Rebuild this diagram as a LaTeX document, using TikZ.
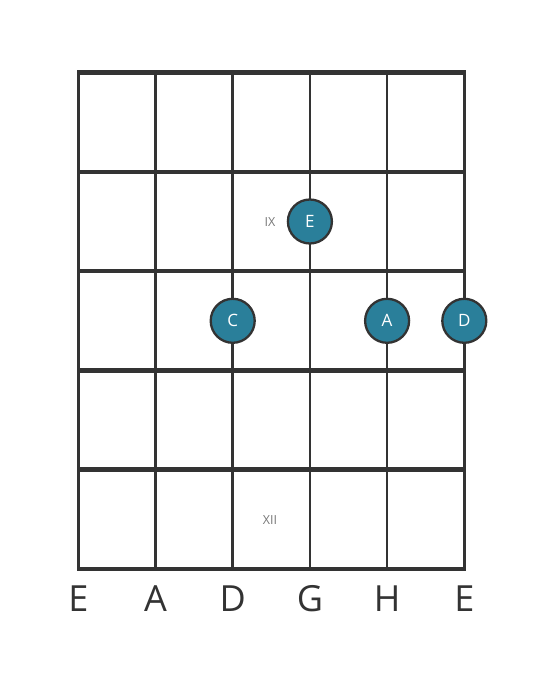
\documentclass[tikz,border=0pt]{standalone}
\usepackage{fontspec}
\setmainfont{Open Sans}
\definecolor{ink}{HTML}{333333}
\definecolor{dot}{HTML}{2A7F9A}
\definecolor{marker}{HTML}{777777}
\begin{document}
\begin{tikzpicture}[x=1pt,y=-1pt,
  string/.style={draw=ink,line width=2.7pt},
  fret/.style={draw=ink,line width=4.6pt},
  notedot/.style={circle,fill=dot,draw=ink,line width=2.3pt,minimum size=44pt,inner sep=0pt,text=white,font=\fontsize{17}{17}\selectfont},
  strlabel/.style={text=ink,font=\fontsize{36}{36}\selectfont,inner sep=0pt},
  fretmark/.style={text=marker,font=\fontsize{12.5}{12.5}\selectfont,inner sep=0pt}]
\useasboundingbox (0,0) rectangle (559,682);
% strings
\foreach \i/\x in {1/78.3,2/155.5,3/232.7,4/309.9,5/387.1,6/464.3}{
  \coordinate (st\i) at (\x,72);
  \coordinate (sb\i) at (\x,569);
  \draw[string] (st\i) -- (sb\i);
}
% frets
\foreach \j/\y in {0/72.5,1/171.8,2/271.1,3/370.4,4/469.7,5/569}{
  \coordinate (fl\j) at (77,\y);
  \coordinate (fr\j) at (465.6,\y);
  \draw[fret] (fl\j) -- (fr\j);
}
% fret markers
\node[fretmark] (ix) at (270,222) {IX};
\node[fretmark] (xii) at (270,520) {XII};
% notes
\node[notedot] (nE) at (309.9,221.5) {E};
\node[notedot] (nC) at (232.7,320.8) {C};
\node[notedot] (nA) at (387.1,320.8) {A};
\node[notedot] (nD) at (464.3,320.8) {D};
% string names
\foreach \i/\x/\t in {1/78.3/E,2/155.5/A,3/232.7/D,4/309.9/G,5/387.1/H,6/464.3/E}{
  \node[strlabel,anchor=base] (lab\i) at (\x,611) {\t};
}
\end{tikzpicture}
\end{document}
